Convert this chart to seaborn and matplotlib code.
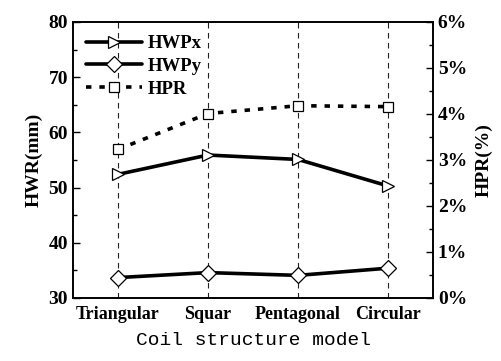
import matplotlib
matplotlib.use("Agg")
import matplotlib.pyplot as plt
import seaborn as sns
import pandas as pd
from matplotlib.ticker import MultipleLocator, FuncFormatter
from matplotlib.lines import Line2D

categories = ["Triangular", "Squar", "Pentagonal", "Circular"]
hwpx = [52.4, 55.9, 55.1, 50.3]
hwpy = [33.7, 34.6, 34.1, 35.4]
hpr = [3.23, 4.01, 4.18, 4.16]

sns.set_theme(style="white")
plt.rcParams["font.family"] = ["Liberation Serif", "DejaVu Serif"]
plt.rcParams["text.color"] = "black"
plt.rcParams["axes.labelcolor"] = "black"
plt.rcParams["xtick.color"] = "black"
plt.rcParams["ytick.color"] = "black"

df = pd.DataFrame({"x": range(len(categories)), "HWPx": hwpx, "HWPy": hwpy, "HPR": hpr})

fig = plt.figure(figsize=(5.01, 3.61), dpi=100)
ax = fig.add_axes([73/501, 1-298/361, 360/501, 276/361])
ax2 = ax.twinx()

for i in range(len(categories)):
    ax.axvline(i, color="#222222", lw=0.8, ls=(0, (5, 4)), zorder=0)

mk = dict(markerfacecolor="white", markeredgecolor="black", markeredgewidth=0.9)
sns.lineplot(data=df, x="x", y="HWPx", ax=ax, color="black", lw=2.6, marker=">", markersize=9, **mk)
sns.lineplot(data=df, x="x", y="HWPy", ax=ax, color="black", lw=2.6, marker="D", markersize=8, **mk)
sns.lineplot(data=df, x="x", y="HPR", ax=ax2, color="black", lw=2.6, ls=(0, (1.5, 2.2)), marker="s", markersize=7, **mk)

ax.set_xlim(-0.5, 3.5)
ax.set_ylim(30, 80)
ax2.set_ylim(0, 6)
ax.set_xticks(range(len(categories)))
ax.set_xticklabels(categories, fontsize=13, fontweight="bold")
ax.xaxis.set_minor_locator(MultipleLocator(0.5))
ax.yaxis.set_major_locator(MultipleLocator(10))
ax.yaxis.set_minor_locator(MultipleLocator(5))
ax2.yaxis.set_major_locator(MultipleLocator(1))
ax2.yaxis.set_minor_locator(MultipleLocator(0.5))
ax2.yaxis.set_major_formatter(FuncFormatter(lambda v, p: f"{int(round(v))}%"))

for a in (ax, ax2):
    for s in a.spines.values():
        s.set_color("black")
        s.set_linewidth(1.2)
    a.tick_params(which="both", direction="in", colors="black", labelsize=14, width=1)
    a.tick_params(which="major", length=5)
    a.tick_params(which="minor", length=3)
    for lab in a.get_yticklabels():
        lab.set_fontweight("bold")
ax.tick_params(axis="x", which="both", top=False, pad=6, labelsize=13)
ax.tick_params(axis="y", which="both", right=False, left=True)
ax2.tick_params(axis="y", which="both", left=False, right=True)

ax.set_xlabel("Coil structure model", family=["Liberation Mono", "DejaVu Sans Mono"], fontsize=14, labelpad=6, color="black")
ax.set_ylabel("HWR(mm)", fontsize=14, fontweight="bold", labelpad=4, color="black")
ax2.set_ylabel("HPR(%)", fontsize=14, fontweight="bold", labelpad=6, color="black")

handles = [
    Line2D([], [], color="black", lw=2.6, marker=">", markersize=9, **mk),
    Line2D([], [], color="black", lw=2.6, marker="D", markersize=8, **mk),
    Line2D([], [], color="black", lw=2.6, ls=(0, (1.5, 2.2)), marker="s", markersize=7, **mk),
]
leg = ax2.legend(handles, ["HWPx", "HWPy", "HPR"], loc="upper left", frameon=False,
                 prop={"weight": "bold", "size": 13.5}, handlelength=3.0, handletextpad=0.3,
                 labelspacing=0.3, borderaxespad=0.3)
for t in leg.get_texts():
    t.set_color("black")

fig.savefig("out.png", dpi=100)
